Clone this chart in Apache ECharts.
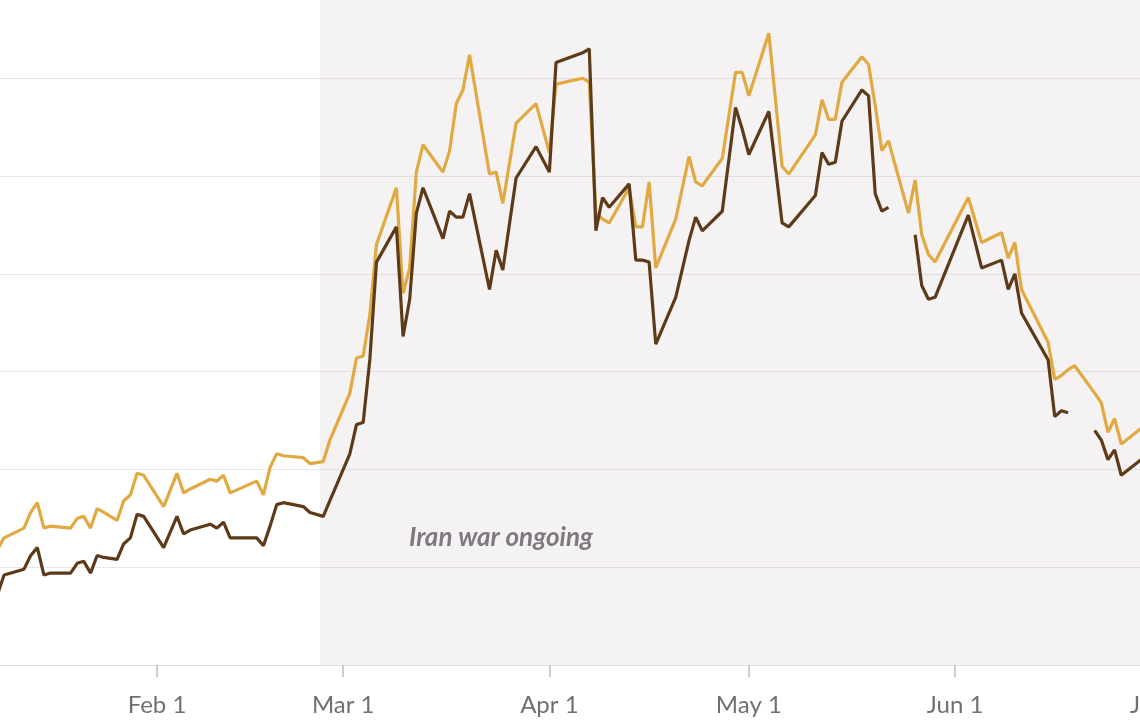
<!DOCTYPE html>
<html lang="en">
<head>
<meta charset="UTF-8">
<title>Iran war ongoing</title>
<script src="https://cdn.jsdelivr.net/npm/echarts@6/dist/echarts.min.js"></script>
<style>
html,body{margin:0;padding:0;background:#fff;}
#chartBox{width:1140px;height:727px;}
</style>
</head>
<body>
<div id="chartBox"></div>
<script>
// values
const dates = [
    '2026-01-08','2026-01-09','2026-01-12','2026-01-13','2026-01-14','2026-01-15','2026-01-16',
    '2026-01-19','2026-01-20','2026-01-21','2026-01-22','2026-01-23','2026-01-24','2026-01-26',
    '2026-01-27','2026-01-28','2026-01-29','2026-01-30','2026-02-02','2026-02-04','2026-02-05',
    '2026-02-06','2026-02-09','2026-02-10','2026-02-11','2026-02-12','2026-02-16','2026-02-17',
    '2026-02-18','2026-02-19','2026-02-20','2026-02-23','2026-02-24','2026-02-26','2026-02-27',
    '2026-03-02','2026-03-03','2026-03-04','2026-03-05','2026-03-06','2026-03-09','2026-03-10',
    '2026-03-11','2026-03-12','2026-03-13','2026-03-16','2026-03-17','2026-03-18','2026-03-19',
    '2026-03-20','2026-03-23','2026-03-24','2026-03-25','2026-03-27','2026-03-30','2026-04-01',
    '2026-04-02','2026-04-06','2026-04-07','2026-04-08','2026-04-09','2026-04-10','2026-04-13',
    '2026-04-14','2026-04-15','2026-04-16','2026-04-17','2026-04-20','2026-04-22','2026-04-23',
    '2026-04-24','2026-04-27','2026-04-29','2026-04-30','2026-05-01','2026-05-04','2026-05-06',
    '2026-05-07','2026-05-11','2026-05-12','2026-05-13','2026-05-14','2026-05-15','2026-05-18',
    '2026-05-19','2026-05-20','2026-05-21','2026-05-22','2026-05-25','2026-05-26','2026-05-27',
    '2026-05-28','2026-05-29','2026-06-03','2026-06-05','2026-06-08','2026-06-09','2026-06-10',
    '2026-06-11','2026-06-15','2026-06-16','2026-06-17','2026-06-18','2026-06-19','2026-06-22',
    '2026-06-23','2026-06-24','2026-06-25','2026-06-26','2026-06-29'
];
const goldValues = [
    2.59, 2.65, 2.70, 2.78, 2.83, 2.70, 2.71,
    2.70, 2.75, 2.76, 2.70, 2.80, 2.78, 2.74,
    2.84, 2.87, 2.98, 2.97, 2.81, 2.98, 2.88,
    2.90, 2.95, 2.94, 2.97, 2.88, 2.94, 2.87,
    3.01, 3.08, 3.07, 3.06, 3.03, 3.04, 3.15,
    3.39, 3.57, 3.58, 3.79, 4.15, 4.44, 3.90,
    4.03, 4.52, 4.66, 4.52, 4.63, 4.87, 4.94,
    5.12, 4.51, 4.52, 4.36, 4.77, 4.87, 4.62,
    4.97, 5.00, 4.98, 4.31, 4.28, 4.26, 4.44,
    4.24, 4.24, 4.47, 4.03, 4.28, 4.60, 4.47,
    4.45, 4.59, 5.03, 5.03, 4.91, 5.23, 4.55,
    4.51, 4.71, 4.89, 4.79, 4.79, 4.98, 5.11,
    5.07, 4.86, 4.63, 4.68, 4.31, 4.48, 4.20,
    4.10, 4.06, 4.39, 4.16, 4.21, 4.08, 4.16,
    3.92, 3.65, 3.46, 3.48, 3.51, 3.53, 3.39,
    3.34, 3.19, 3.26, 3.13, 3.21
];
const brownValues = [
    2.36, 2.46, 2.49, 2.56, 2.60, 2.46, 2.47,
    2.47, 2.52, 2.53, 2.47, 2.56, 2.55, 2.54,
    2.62, 2.65, 2.77, 2.76, 2.60, 2.76, 2.67,
    2.69, 2.72, 2.70, 2.73, 2.65, 2.65, 2.61,
    2.71, 2.82, 2.83, 2.81, 2.78, 2.76, 2.84,
    3.08, 3.23, 3.24, 3.56, 4.06, 4.24, 3.68,
    3.87, 4.31, 4.44, 4.18, 4.32, 4.29, 4.29,
    4.41, 3.92, 4.12, 4.02, 4.49, 4.65, 4.52,
    5.08, 5.13, 5.15, 4.22, 4.39, 4.34, 4.46,
    4.07, 4.07, 4.06, 3.64, 3.88, 4.17, 4.29,
    4.22, 4.32, 4.85, 4.74, 4.61, 4.83, 4.26,
    4.24, 4.40, 4.62, 4.56, 4.57, 4.78, 4.94,
    4.91, 4.41, 4.32, 4.34, null, 4.20, 3.94,
    3.87, 3.88, 4.30, 4.03, 4.07, 3.92, 4.00,
    3.80, 3.56, 3.27, 3.30, 3.29, null, 3.20,
    3.15, 3.05, 3.10, 2.97, 3.05
];
const tickDates = ['2026-02-01', '2026-03-01', '2026-04-01', '2026-05-01', '2026-06-01', '2026-07-01'];
const tickLabels = ['Feb 1', 'Mar 1', 'Apr 1', 'May 1', 'Jun 1', 'Jul 1'];
const warStart = '2026-02-25 12:00';
const noteText = 'Iran war ongoing';

const GOLD = '#e1a941';
const BROWN = '#5e3b18';

// parse 'yyyy-MM-dd[ HH:mm]' as local time
function toTime(s) {
    let p = s.split(/[- :]/).map(Number);
    return new Date(p[0], p[1] - 1, p[2], p[3] || 0, p[4] || 0).getTime();
}

let chartObj = echarts.init(document.getElementById('chartBox'));
let tickTimes = tickDates.map(toTime);
let xMin = toTime('2026-01-08 09:21');
let xMax = toTime('2026-07-07 20:10');

let option = {
    animation: false,
    grid: {
        left: 0,
        right: -60,
        top: 0,
        bottom: 62,
        containLabel: false,
        outerBoundsMode: 'none'
    },
    xAxis: {
        type: 'value',
        min: xMin,
        max: xMax,
        axisLine: {lineStyle: {color: '#dedede', width: 1}},
        axisTick: {
            show: true,
            customValues: tickTimes,
            length: 12,
            lineStyle: {color: '#bdbdbd', width: 1.5}
        },
        axisLabel: {
            customValues: tickTimes,
            margin: 28,
            fontSize: 24,
            fontFamily: 'Lato',
            color: '#707070',
            formatter: function (val) {
                let i = tickTimes.indexOf(val);
                return i >= 0 ? tickLabels[i] : '';
            }
        },
        splitLine: {show: false}
    },
    yAxis: {
        type: 'value',
        min: 2,
        max: 5.4,
        interval: 0.5,
        axisLabel: {show: false},
        axisLine: {show: false},
        axisTick: {show: false},
        splitLine: {
            showMaxLine: false,
            lineStyle: {color: '#eae7e9', width: 1.2}
        }
    },
    graphic: [
        {
            type: 'text',
            left: 409,
            top: 525,
            style: {
                text: noteText,
                fontFamily: 'Lato',
                fontStyle: 'italic',
                fontWeight: 'bold',
                fontSize: 26,
                fill: '#7b7980'
            }
        }
    ],
    series: [
        {
            name: 'Series 1',
            type: 'line',
            symbol: 'none',
            connectNulls: false,
            lineStyle: {color: GOLD, width: 3.2},
            itemStyle: {color: GOLD},
            data: dates.map((d, i) => [toTime(d), goldValues[i]]),
            markArea: {
                silent: true,
                itemStyle: {color: 'rgba(160,125,140,0.1)'},
                data: [[{xAxis: toTime(warStart)}, {xAxis: xMax}]]
            }
        },
        {
            name: 'Series 2',
            type: 'line',
            symbol: 'none',
            connectNulls: false,
            lineStyle: {color: BROWN, width: 3.2},
            itemStyle: {color: BROWN},
            data: dates.map((d, i) => [toTime(d), brownValues[i]])
        }
    ]
};
chartObj.setOption(option);
</script>
</body>
</html>
